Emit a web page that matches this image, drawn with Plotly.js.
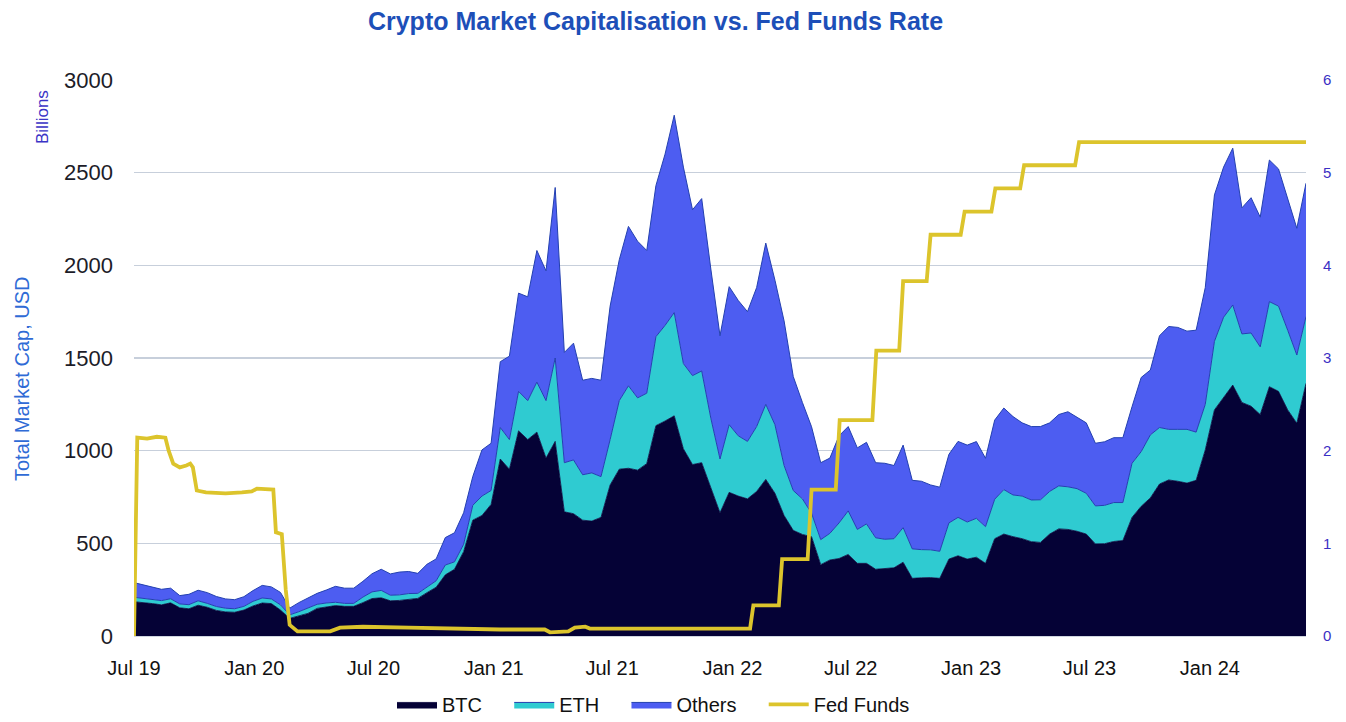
<!DOCTYPE html>
<html>
<head>
<meta charset="utf-8">
<script src="https://cdn.plot.ly/plotly-3.0.1.min.js"></script>
<style>html,body{margin:0;padding:0;background:#fff;}#chart{width:1346px;height:722px;}</style>
</head>
<body>
<div id="chart"></div>
<script>
// Market-cap series: one value every two weeks starting 2019-07-26 (billions USD)
const startDate = '2019-07-26';
const stepDays = 14;

const btc = [
  185,181,175,168,179,152,147,166,155,138,
  130,128,140,162,178,175,140,95,110,122,
  149,156,164,160,160,180,202,206,190,192,
  197,203,234,263,330,360,455,625,650,710,
  955,900,1107,1060,1100,960,1050,670,660,625,
  620,640,815,900,905,895,930,1135,1160,1188,
  1010,925,935,795,665,775,755,740,780,845,
  770,650,570,548,536,385,410,418,440,392,
  392,360,362,368,398,311,314,315,311,415,
  433,415,425,392,525,550,536,525,509,505,
  550,578,575,565,550,497,498,510,515,640,
  700,745,820,842,835,825,840,1004,1220,1290,
  1354,1260,1240,1195,1345,1320,1220,1148,1363
];

const eth = [
  24,22,20,23,22,21,22,24,21,21,
  20,19,20,25,27,25,28,19,21,28,
  22,22,18,16,16,30,36,40,30,30,
  32,27,32,35,53,40,40,80,105,75,
  170,160,213,210,270,310,450,265,290,245,
  260,220,245,370,445,390,380,480,516,557,
  460,480,495,380,290,365,325,310,350,405,
  370,270,215,192,126,135,144,192,235,183,
  213,170,160,157,187,159,152,150,146,195,
  207,200,210,198,213,240,225,230,225,230,
  230,232,230,230,220,205,207,210,205,292,
  295,340,305,273,280,290,260,246,370,430,
  432,370,395,365,459,460,430,368,360
];

const others = [
  79,73,67,61,57,45,56,57,58,54,
  50,49,52,58,68,65,67,36,49,55,
  59,70,86,82,82,85,98,114,115,123,
  119,108,121,118,148,157,170,155,249,255,
  355,450,530,560,710,700,920,595,630,510,
  510,520,720,760,860,845,770,815,924,1065,
  1060,895,930,805,665,745,730,700,750,870,
  780,780,615,520,467,415,406,470,455,440,
  440,405,410,395,445,370,369,350,346,370,
  410,415,414,369,427,440,423,395,396,395,
  370,385,405,385,380,338,343,350,350,305,
  400,350,495,555,550,530,550,630,790,810,
  846,680,730,700,764,740,710,684,720
];

// Fed Funds effective rate (%), right axis
const fedDates = [
  '2019-07-26','2019-07-31','2019-08-15','2019-08-30','2019-09-12','2019-09-17','2019-09-24',
  '2019-10-04','2019-10-14','2019-10-20','2019-10-24','2019-10-30','2019-11-13','2019-12-13',
  '2020-01-07','2020-01-22','2020-01-30','2020-02-24','2020-02-28','2020-03-08','2020-03-14',
  '2020-03-20','2020-04-01','2020-05-21','2020-06-05','2020-07-10','2020-09-18','2020-11-17',
  '2021-02-05','2021-04-14','2021-04-22','2021-05-20','2021-05-30','2021-06-15','2021-06-22',
  '2021-08-04','2022-02-22','2022-02-27','2022-04-07','2022-04-12','2022-05-21','2022-05-27',
  '2022-07-03','2022-07-09','2022-08-28','2022-09-03','2022-10-08','2022-10-14','2022-11-19',
  '2022-11-25','2023-01-10','2023-01-16','2023-02-26','2023-03-04','2023-04-11','2023-04-17',
  '2023-07-04','2023-07-10','2024-06-21'
];
const fedFunds = [
  0,2.14,2.13,2.15,2.14,2.0,1.86,
  1.82,1.84,1.86,1.82,1.57,1.55,1.54,
  1.55,1.56,1.59,1.58,1.12,1.10,0.5,
  0.12,0.05,0.05,0.09,0.10,0.09,0.08,
  0.07,0.07,0.04,0.05,0.09,0.10,0.08,
  0.08,0.08,0.33,0.33,0.83,0.83,1.58,
  1.58,2.33,2.33,3.08,3.08,3.83,3.83,
  4.33,4.33,4.58,4.58,4.83,4.83,5.08,
  5.08,5.33,5.33
];

const tickVals = ['2019-07-26','2020-01-26','2020-07-26','2021-01-26','2021-07-26',
                  '2022-01-26','2022-07-26','2023-01-26','2023-07-26','2024-01-26'];
const tickText = ['Jul 19','Jan 20','Jul 20','Jan 21','Jul 21',
                  'Jan 22','Jul 22','Jan 23','Jul 23','Jan 24'];

// build the biweekly date axis
const dates = [];
const t0 = new Date(startDate + 'T00:00:00Z').getTime();
for (let i = 0; i < btc.length; i++) {
  dates.push(new Date(t0 + i * stepDays * 86400000).toISOString().slice(0, 10));
}

const FONT = "'Liberation Sans', Arial, sans-serif";
const edge = '#2340b0';
const pad = '\u00a0\u00a0\u00a0\u00a0';

const traces = [
  {x: dates, y: btc, name: 'BTC' + pad, type: 'scatter', mode: 'lines', stackgroup: 'cap',
   line: {color: '#06033a', width: 0.8}, fillcolor: '#050236'},
  {x: dates, y: eth, name: 'ETH' + pad, type: 'scatter', mode: 'lines', stackgroup: 'cap',
   line: {color: edge, width: 1}, fillcolor: '#2fcbd1'},
  {x: dates, y: others, name: 'Others' + pad, type: 'scatter', mode: 'lines', stackgroup: 'cap',
   line: {color: edge, width: 1}, fillcolor: '#4d5df1'},
  {x: fedDates, y: fedFunds, name: 'Fed Funds', type: 'scatter', mode: 'lines', yaxis: 'y2',
   line: {color: '#dcc42c', width: 3.8}}
];

const layout = {
  width: 1346, height: 722,
  margin: {l: 134, r: 40, t: 80, b: 86, autoexpand: false},
  paper_bgcolor: '#ffffff', plot_bgcolor: '#ffffff',
  font: {family: FONT, color: '#1a1a1a'},
  showlegend: true,
  title: {text: '<b>Crypto Market Capitalisation vs. Fed Funds Rate</b>',
          font: {family: FONT, size: 25, color: '#1d4fb8'},
          x: 0.487, xanchor: 'center', y: 0.970, yanchor: 'middle'},
  xaxis: {type: 'date', range: ['2019-07-26', '2024-06-21'],
          tickmode: 'array', tickvals: tickVals, ticktext: tickText,
          showgrid: false, zeroline: false, showline: true, linecolor: '#d0d6e0', linewidth: 1,
          ticks: '', ticklabelstandoff: 14,
          tickfont: {family: FONT, size: 20, color: '#111111'}},
  yaxis: {range: [0, 3000], tickmode: 'array', tickvals: [0,500,1000,1500,2000,2500,3000],
          showgrid: true, gridcolor: '#c7cfdb', gridwidth: 1.3, zeroline: false,
          showline: false, ticks: '', ticklabelstandoff: 20,
          tickfont: {family: FONT, size: 22, color: '#1c1c28'}},
  yaxis2: {range: [0, 6], overlaying: 'y', side: 'right', dtick: 1,
           showgrid: false, zeroline: false, showline: false, ticks: '', ticklabelstandoff: 16,
           tickfont: {family: FONT, size: 15, color: '#3a2fc4'}},
  legend: {orientation: 'h', x: (392 - 134) / 1172, xanchor: 'left', y: -0.088, yanchor: 'top',
           traceorder: 'normal', font: {family: FONT, size: 20, color: '#111111'},
           itemwidth: 40, bgcolor: 'rgba(0,0,0,0)'},
  annotations: [
    {text: 'Total Market Cap, USD', textangle: -90, xref: 'paper', yref: 'paper',
     x: (22 - 134) / 1172, y: (636 - 378) / 556, xanchor: 'center', yanchor: 'middle',
     showarrow: false, font: {family: FONT, size: 20, color: '#2f6bd6'}},
    {text: 'Billions', textangle: -90, xref: 'paper', yref: 'paper',
     x: (42 - 134) / 1172, y: (636 - 117) / 556, xanchor: 'center', yanchor: 'middle',
     showarrow: false, font: {family: FONT, size: 17, color: '#3a33c6'}}
  ]
};

Plotly.newPlot('chart', traces, layout, {displayModeBar: false, staticPlot: true});
</script>
</body>
</html>
